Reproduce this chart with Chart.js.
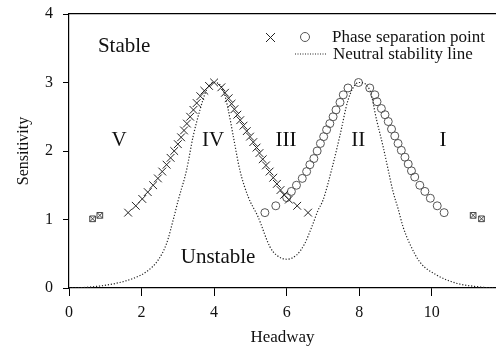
<!DOCTYPE html>
<html>
<head>
<meta charset="utf-8">
<script src="https://cdn.jsdelivr.net/npm/chart.js@4.4.1/dist/chart.umd.min.js"></script>
<style>
  html, body { margin: 0; padding: 0; background: #fff; }
  #wrap { width: 496px; height: 351px; }
</style>
</head>
<body>
<div id="wrap"><canvas id="phaseChart"></canvas></div>
<script>
// Phase separation points, left peak (crosses)
const crossX = [1.63, 1.84, 2.02, 2.17, 2.32, 2.45, 2.57, 2.69, 2.80, 2.90, 3.00, 3.09, 3.17, 3.25, 3.34, 3.43, 3.52, 3.62, 3.73, 3.86, 4.00,
                4.20, 4.30, 4.40, 4.48, 4.56, 4.64, 4.72, 4.81, 4.90, 4.99, 5.08, 5.17, 5.25, 5.34, 5.43, 5.53, 5.63, 5.73, 5.83, 5.93, 6.06, 6.29, 6.59];
const crossY = [1.10, 1.20, 1.30, 1.40, 1.50, 1.60, 1.70, 1.80, 1.90, 2.00, 2.10, 2.20, 2.30, 2.40, 2.50, 2.60, 2.70, 2.80, 2.88, 2.95, 3.00,
                2.93, 2.85, 2.77, 2.69, 2.61, 2.53, 2.45, 2.37, 2.29, 2.21, 2.13, 2.05, 1.97, 1.88, 1.79, 1.70, 1.61, 1.52, 1.43, 1.36, 1.29, 1.20, 1.10];

// Phase separation points, right peak (circles)
const circleX = [5.40, 5.70, 6.00, 6.13, 6.27, 6.43, 6.55, 6.64, 6.75, 6.84, 6.93, 7.02, 7.10, 7.19, 7.28, 7.36, 7.47, 7.56, 7.69, 7.98,
                 8.29, 8.43, 8.49, 8.61, 8.71, 8.80, 8.89, 8.98, 9.07, 9.16, 9.26, 9.35, 9.44, 9.53, 9.67, 9.81, 9.96, 10.15, 10.34];
const circleY = [1.10, 1.20, 1.32, 1.41, 1.50, 1.60, 1.70, 1.80, 1.89, 2.00, 2.11, 2.21, 2.31, 2.40, 2.50, 2.60, 2.71, 2.82, 2.92, 3.00,
                 2.92, 2.82, 2.72, 2.62, 2.53, 2.43, 2.32, 2.22, 2.11, 2.01, 1.91, 1.81, 1.71, 1.62, 1.50, 1.41, 1.31, 1.20, 1.10];

// Points where both kinds coincide (boxed crosses)
const boxX = [0.65, 0.85, 11.14, 11.37];
const boxY = [1.01, 1.06, 1.06, 1.01];

// Neutral stability line
const neutralX = [0.00, 0.49, 1.22, 1.77, 2.14, 2.46, 2.69, 2.87, 3.01, 3.24, 3.42, 3.61, 3.79, 4.00, 4.25, 4.39, 4.53, 4.71, 4.94, 5.21,
                  5.54, 5.72, 6.00, 6.27, 6.50, 6.69, 6.87, 7.00, 7.25, 7.47, 7.69, 7.93, 8.00, 8.29, 8.48, 8.66, 8.80, 8.93, 9.07,
                  9.21, 9.39, 9.67, 10.13, 10.68, 11.23, 11.69];
const neutralY = [0.00, 0.01, 0.06, 0.14, 0.24, 0.41, 0.65, 0.99, 1.28, 1.72, 2.21, 2.60, 2.89, 3.00, 2.89, 2.60, 2.21, 1.72, 1.33, 1.04,
                  0.60, 0.48, 0.42, 0.48, 0.65, 0.89, 1.14, 1.28, 1.75, 2.23, 2.74, 2.99, 3.00, 2.89, 2.45, 2.06, 1.72, 1.41, 1.16,
                  0.89, 0.65, 0.38, 0.19, 0.07, 0.02, 0.00];

const xTicks = [0, 2, 4, 6, 8, 10];
const yTicks = [0, 1, 2, 3, 4];

const regionLabels = ['Stable', 'V', 'IV', 'III', 'II', 'I', 'Unstable'];
const regionX = [1.52, 1.38, 3.97, 5.98, 7.97, 10.31, 4.11];
const regionY = [3.52, 2.15, 2.15, 2.15, 2.15, 2.15, 0.45];

const SERIF = '"Liberation Serif", "Times New Roman", serif';

function pts(xs, ys) {
	return xs.map((x, i) => ({ x: x, y: ys[i] }));
}

const textPlugin = {
	id: 'textPlugin',
	afterDatasetsDraw(chart) {
		const c = chart.ctx;
		const xs = chart.scales.x, ys = chart.scales.y;
		c.save();
		c.fillStyle = '#111';
		c.textAlign = 'center';
		c.textBaseline = 'middle';
		c.font = '21px ' + SERIF;
		regionLabels.forEach((t, i) => {
			c.fillText(t, xs.getPixelForValue(regionX[i]), ys.getPixelForValue(regionY[i]));
		});

		// legend
		c.font = '17px ' + SERIF;
		c.textAlign = 'left';
		c.fillText('Phase separation point', 332, 38);
		c.fillText('Neutral stability line', 333, 55);
		c.strokeStyle = '#222';
		c.lineWidth = 1;
		c.beginPath();
		c.moveTo(266, 33); c.lineTo(275, 42);
		c.moveTo(275, 33); c.lineTo(266, 42);
		c.stroke();
		c.strokeStyle = '#555';
		c.beginPath();
		c.arc(305, 37, 4.5, 0, Math.PI * 2);
		c.stroke();
		c.strokeStyle = '#222';
		c.setLineDash([1, 1.5]);
		c.beginPath();
		c.moveTo(295, 54); c.lineTo(326, 54);
		c.stroke();
		c.restore();
	}
};

new Chart(document.getElementById('phaseChart'), {
	type: 'scatter',
	data: {
		datasets: [
			{
				label: 'Neutral stability line',
				data: pts(neutralX, neutralY),
				showLine: true,
				borderColor: '#222',
				borderWidth: 1.2,
				borderDash: [1.2, 1.8],
				pointRadius: 0,
				cubicInterpolationMode: 'monotone',
				fill: false
			},
			{
				label: 'cross',
				data: pts(crossX, crossY),
				pointStyle: 'crossRot',
				pointRadius: 5.5,
				borderColor: '#222',
				borderWidth: 1
			},
			{
				label: 'circle',
				data: pts(circleX, circleY),
				pointStyle: 'circle',
				pointRadius: 4,
				borderColor: '#555',
				backgroundColor: 'rgba(0,0,0,0)',
				borderWidth: 1
			},
			{
				label: 'box',
				data: pts(boxX, boxY),
				pointStyle: 'rect',
				pointRadius: 4,
				borderColor: '#444',
				backgroundColor: 'rgba(0,0,0,0)',
				borderWidth: 1
			},
			{
				label: 'boxcross',
				data: pts(boxX, boxY),
				pointStyle: 'crossRot',
				pointRadius: 4,
				borderColor: '#444',
				borderWidth: 1
			}
		]
	},
	options: {
		responsive: true,
		maintainAspectRatio: false,
		animation: false,
		layout: { padding: 0, autoPadding: false },
		scales: {
			x: {
				type: 'linear',
				min: 0,
				max: 11.77,
				afterFit(s) { s.height = 63; s.paddingLeft = 0; s.paddingRight = 0; },
				afterBuildTicks(s) { s.ticks = xTicks.map(v => ({ value: v })); },
				ticks: { color: '#111', font: { family: SERIF, size: 16 }, padding: 7, maxRotation: 0, autoSkip: false },
				grid: { drawOnChartArea: false, drawTicks: true, tickLength: 8, color: '#000' },
				border: { display: true, color: '#000', width: 1.2 },
				title: { display: true, text: 'Headway', color: '#111', font: { family: SERIF, size: 17 }, padding: { top: 0, bottom: 3 } }
			},
			x2: {
				type: 'linear',
				position: 'top',
				min: 0,
				max: 11.77,
				afterFit(s) { s.height = 14; s.paddingLeft = 0; s.paddingRight = 0; },
				ticks: { display: false },
				grid: { display: false, drawTicks: false },
				border: { display: true, color: '#000', width: 1.2 }
			},
			y: {
				type: 'linear',
				min: 0,
				max: 4,
				afterFit(s) { s.width = 69; s.paddingTop = 0; s.paddingBottom = 0; },
				afterBuildTicks(s) { s.ticks = yTicks.map(v => ({ value: v })); },
				ticks: { color: '#111', font: { family: SERIF, size: 16 }, padding: 10 },
				grid: { drawOnChartArea: false, drawTicks: true, tickLength: 6, color: '#000' },
				border: { display: true, color: '#000', width: 1.2 },
				title: { display: true, text: 'Sensitivity', color: '#111', font: { family: SERIF, size: 16 }, padding: { top: 14, bottom: 0 } }
			}
		},
		plugins: {
			legend: { display: false },
			tooltip: { enabled: false }
		}
	},
	plugins: [textPlugin]
});
</script>
</body>
</html>
